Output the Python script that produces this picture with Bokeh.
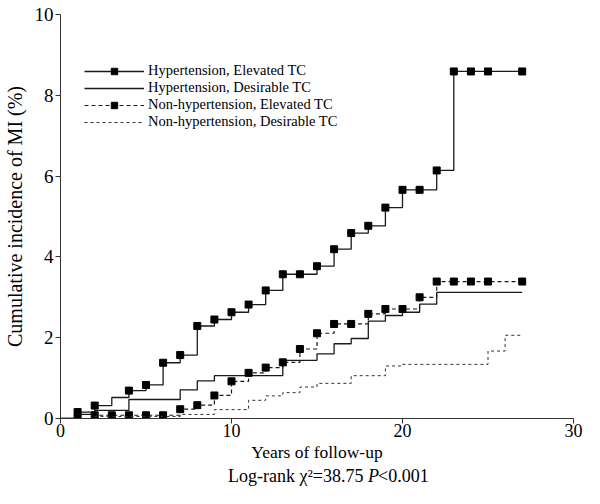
from bokeh.plotting import figure
from bokeh.layouts import column
from bokeh.models import Range1d, FixedTicker, Legend, LegendItem
from bokeh.core.properties import value
from bokeh.embed import file_html
from bokeh.resources import INLINE

FONT = "Liberation Serif"

# ---- data (years of follow-up, cumulative incidence %) ----
# Hypertension, Elevated TC
s1_step_t = [0, 1, 2, 3, 4, 5, 6, 7, 8, 9, 10, 11, 12, 13, 15, 16, 17, 18, 19, 20, 22, 23, 27]
s1_step_v = [0, 0.16, 0.32, 0.52, 0.69, 0.83, 1.38, 1.57, 2.29, 2.45, 2.63, 2.82, 3.17, 3.57,
             3.77, 4.19, 4.59, 4.77, 5.22, 5.66, 6.14, 8.59, 8.59]
s1_mark_t = [1, 2, 4, 5, 6, 7, 8, 9, 10, 11, 12, 13, 14, 15, 16, 17, 18, 19, 20, 21, 22, 23, 24, 25, 27]
s1_mark_v = [0.16, 0.32, 0.69, 0.83, 1.38, 1.57, 2.29, 2.45, 2.63, 2.82, 3.17, 3.57, 3.57, 3.77,
             4.19, 4.59, 4.77, 5.22, 5.66, 5.66, 6.14, 8.59, 8.59, 8.59, 8.59]

# Hypertension, Desirable TC
s2_step_t = [0, 1, 2, 4, 7, 8, 9, 13, 15, 16, 17, 18, 19, 20, 21, 22, 27]
s2_step_v = [0, 0.10, 0.20, 0.47, 0.71, 0.93, 1.06, 1.44, 1.60, 1.85, 1.98, 2.41, 2.55, 2.63,
             2.83, 3.12, 3.12]

# Non-hypertension, Elevated TC
s3_step_t = [0, 2, 7, 8, 9, 10, 11, 12, 13, 14, 15, 16, 18, 19, 21, 22, 27]
s3_step_v = [0, 0.08, 0.23, 0.33, 0.57, 0.92, 1.13, 1.26, 1.39, 1.72, 2.11, 2.34, 2.59, 2.71,
             3.00, 3.39, 3.39]
s3_mark_t = [1, 2, 3, 4, 5, 6, 7, 8, 9, 10, 11, 12, 13, 14, 15, 16, 17, 18, 19, 20, 21, 22, 23, 24, 25, 27]
s3_mark_v = [0.0, 0.08, 0.08, 0.08, 0.08, 0.08, 0.23, 0.33, 0.57, 0.92, 1.13, 1.26, 1.39, 1.72,
             2.11, 2.34, 2.34, 2.59, 2.71, 2.71, 3.00, 3.39, 3.39, 3.39, 3.39, 3.39]

# Non-hypertension, Desirable TC
s4_step_t = [0, 2, 7, 9, 11, 12, 13, 14, 15, 17, 19, 20, 25, 26, 27]
s4_step_v = [0, 0.05, 0.10, 0.22, 0.45, 0.56, 0.64, 0.78, 0.87, 1.06, 1.30, 1.34, 1.67, 2.06, 2.06]

labels = ["Hypertension, Elevated TC", "Hypertension, Desirable TC",
          "Non-hypertension, Elevated TC", "Non-hypertension, Desirable TC"]
x_ticks = [0, 10, 20, 30]
y_ticks = [0, 2, 4, 6, 8, 10]
footnote = ["Log-rank \u03c7\u00b2=38.75 ", "P", "<0.001"]

W = 584
p = figure(width=W, height=464, output_backend="svg", toolbar_location=None,
           x_range=Range1d(0, 30), y_range=Range1d(0, 10),
           min_border_left=54, min_border_right=11, min_border_top=14, min_border_bottom=46)
p.outline_line_color = None
p.grid.visible = False

LC = "#1a1a1a"
r1 = p.step(s1_step_t, s1_step_v, mode="after", line_color=LC, line_width=1.3)
m1 = p.scatter(s1_mark_t, s1_mark_v, marker="square", size=7, fill_color="black", line_color="black")
r2 = p.step(s2_step_t, s2_step_v, mode="after", line_color=LC, line_width=1.3)
r3 = p.step(s3_step_t, s3_step_v, mode="after", line_color=LC, line_width=1.2, line_dash="4 3")
m3 = p.scatter(s3_mark_t, s3_mark_v, marker="square", size=7, fill_color="black", line_color="black")
r4 = p.step(s4_step_t, s4_step_v, mode="after", line_color="#333333", line_width=1.0, line_dash="3 3")

legend = Legend(items=[LegendItem(label=labels[0], renderers=[r1, m1]),
                       LegendItem(label=labels[1], renderers=[r2]),
                       LegendItem(label=labels[2], renderers=[r3, m3]),
                       LegendItem(label=labels[3], renderers=[r4])],
                location=(24, 288), border_line_color=None, background_fill_alpha=0,
                padding=0, margin=0, spacing=0, glyph_width=60, glyph_height=16,
                label_height=16, label_standoff=4,
                label_text_font=FONT, label_text_font_size="14.5px", label_text_color="black")
p.add_layout(legend)

for ax in (p.xaxis[0], p.yaxis[0]):
    ax.axis_line_color = "#333333"
    ax.major_tick_line_color = "#333333"
    ax.minor_tick_line_color = None
    ax.major_tick_out = 5
    ax.major_tick_in = 0
    ax.major_label_text_font = FONT
    ax.major_label_text_color = "black"
    ax.axis_label_text_font = FONT
    ax.axis_label_text_font_style = "normal"
    ax.axis_label_text_color = "black"

p.xaxis.ticker = FixedTicker(ticks=x_ticks)
p.yaxis.ticker = FixedTicker(ticks=y_ticks)
p.xaxis.major_label_text_font_size = "18px"
p.yaxis.major_label_text_font_size = "19px"
p.xaxis.major_label_standoff = 0
p.yaxis.major_label_standoff = 2
p.xaxis.axis_label = "Years of follow-up"
p.xaxis.axis_label_text_font_size = "17.5px"
p.xaxis.axis_label_standoff = 2
p.yaxis.axis_label = "Cumulative incidence of MI (%)"
p.yaxis.axis_label_text_font_size = "20px"
p.yaxis.axis_label_standoff = 6

# footnote strip: "Log-rank chi2=38.75 P<0.001"
H2 = 22
q = figure(width=W, height=H2, output_backend="svg", toolbar_location=None,
           x_range=Range1d(0, W), y_range=Range1d(0, H2),
           min_border_left=0, min_border_right=0, min_border_top=0, min_border_bottom=0)
q.axis.visible = False
q.grid.visible = False
q.outline_line_color = None
fs = 18
p_left = 350            # pixel position of the italic P
p_width = 0.611 * fs
ty = H2 / 2
common = dict(text_font=value(FONT), text_font_size=f"{fs}px", text_color="black",
              text_baseline="middle")
q.text(x=[p_left], y=[ty], text=[footnote[0]], text_align="right", **common)
q.text(x=[p_left], y=[ty], text=[footnote[1]], text_align="left", text_font_style="italic", **common)
q.text(x=[p_left + p_width + 0.5], y=[ty], text=[footnote[2]], text_align="left", **common)

layout = column(p, q, spacing=0)
open("out.html", "w").write(file_html(layout, INLINE))
